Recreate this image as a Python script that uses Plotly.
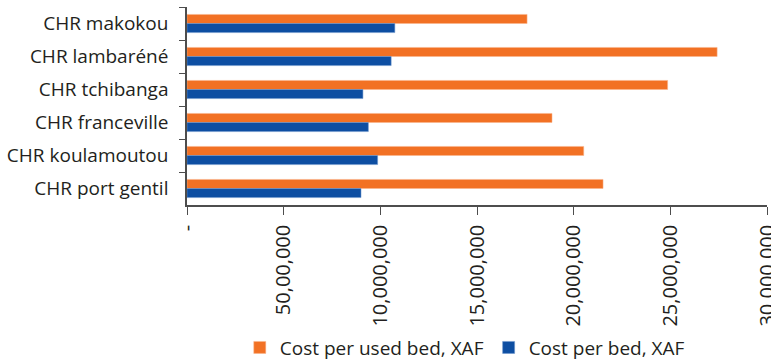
import plotly.graph_objects as go

hospitals = ["CHR makokou", "CHR lambaréné", "CHR tchibanga",
             "CHR franceville", "CHR koulamoutou", "CHR port gentil"]
cost_used_bed = [17590000, 27420000, 24860000, 18880000, 20520000, 21520000]
cost_bed = [10750000, 10560000, 9100000, 9380000, 9860000, 9000000]

tick_vals = [0, 5000000, 10000000, 15000000, 20000000, 25000000, 30000000]
tick_text = ["-", "50,00,000", "10,000,000", "15,000,000",
             "20,000,000", "25,000,000", "30,000,000"]

orange = "rgb(242,113,36)"
blue = "rgb(13,78,162)"
axis_col = "#4d4d4d"
txt_col = "#231f20"

fig = go.Figure()
fig.add_trace(go.Bar(
    y=hospitals, x=cost_used_bed, orientation="h",
    name="Cost per used bed, XAF",
    marker=dict(color=orange, line=dict(color="rgba(250,180,140,0.9)", width=0.6)),
))
fig.add_trace(go.Bar(
    y=hospitals, x=cost_bed, orientation="h",
    name="Cost per bed, XAF",
    marker=dict(color=blue, line=dict(color="rgba(110,150,205,0.9)", width=0.6)),
))

fig.update_layout(
    width=771, height=362,
    margin=dict(l=187, r=4, t=7, b=157, autoexpand=False),
    paper_bgcolor="white", plot_bgcolor="white",
    barmode="group", bargap=0.45, bargroupgap=0,
    font=dict(family="Open Sans", color=txt_col, size=18),
    showlegend=True,
    legend=dict(orientation="h", x=0.091, xanchor="left", y=-0.72, yanchor="middle",
                font=dict(size=19, color=txt_col), traceorder="normal"),
)
fig.update_xaxes(
    range=[0, 30000050], tickvals=tick_vals, ticktext=tick_text,
    tickangle=-90, ticks="outside", ticklen=8, tickcolor=axis_col,
    showline=True, linecolor=axis_col, linewidth=1.5,
    showgrid=False, zeroline=False, tickfont=dict(size=20),
    ticklabelstandoff=2, automargin=False, ticklabeloverflow="allow",
)
fig.update_yaxes(
    autorange="reversed", tickson="boundaries", ticks="outside", ticklen=6,
    tickcolor=axis_col, showline=True, linecolor=axis_col, linewidth=1.5,
    showgrid=False, tickfont=dict(size=19), ticklabelstandoff=13,
    automargin=False,
)

# drop the browser's default 8px body margin so the figure sits at 0,0
fig.write_html("out.html", config={"displayModeBar": False},
               post_script="document.body.style.margin='0';")
